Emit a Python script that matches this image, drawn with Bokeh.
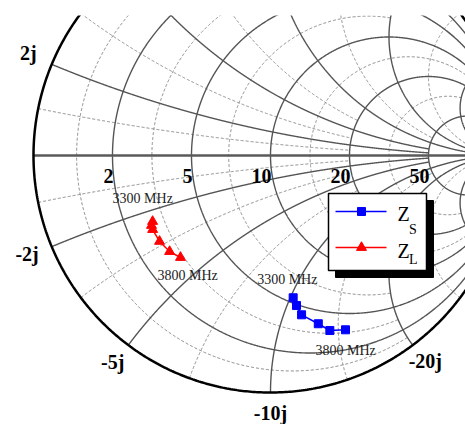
import numpy as np
from bokeh.plotting import figure
from bokeh.core.properties import value
from bokeh.embed import file_html
from bokeh.resources import INLINE

# ---------------- data (ohms, chart normalised to Z0) ----------------
Z0 = 10.0
freq_mhz = [3300, 3400, 3500, 3600, 3700, 3800]
zs_r = [5.35, 4.92, 4.40, 3.99, 3.54, 3.56]
zs_x = [-10.19, -10.61, -11.14, -12.44, -13.34, -14.59]
zl_r = [2.91, 2.82, 2.80, 2.84, 2.98, 3.21]
zl_x = [-2.40, -2.52, -2.67, -3.17, -3.69, -4.12]

# grid circles (normalised) and truncation limits
r_solid = [0.2, 0.5, 1.0, 2.0, 5.0]
r_solid_lim = [5.0, 5.0, np.inf, np.inf, np.inf]
r_dash = [0.1, 0.333, 0.7, 1.4, 3.0]
r_dash_lim = [2.0, 2.0, 2.0, 5.0, 5.0]
x_solid = [0.2, 0.5, 1.0, 2.0, 5.0]
x_solid_lim = [5.0, 5.0, np.inf, np.inf, np.inf]
x_dash = [0.1, 0.333, 0.7, 1.4, 3.0]
x_dash_lim = [2.0, 2.0, 2.0, 5.0, 10.0]

r_tick_ohm = [2, 5, 10, 20, 50]
r_tick_labels = ["2", "5", "10", "20", "50"]
x_tick_ohm = [2, -2, -5, -10, -20]
x_tick_labels = ["2j", "-2j", "-5j", "-10j", "-20j"]

# ---------------- layout ----------------
W, H, TOP = 465, 424, 15
S = 237.0                     # px per unit of reflection coefficient
CXF, CYF = 270.0, 140.0       # chart centre inside the frame (px)
FW, FH = W, H - TOP
x_range = (-CXF / S, (FW - CXF) / S)
y_range = (-(FH - CYF) / S, CYF / S)
TXT_UP = 6.0                  # baseline correction for text (px)


def pg(px, py):
    """page pixel -> gamma-plane coordinates"""
    return (px - CXF) / S, (CYF - (py - TOP)) / S


def gamma(r, x):
    z = np.asarray(r, float) + 1j * np.asarray(x, float)
    g = (z - 1) / (z + 1)
    return g.real, g.imag


def r_curve(r, xmax):
    t = np.linspace(-np.arctan(xmax), np.arctan(xmax), 1500)
    return gamma(np.full_like(t, r), np.tan(t))


def x_curve(x, rmax):
    t = np.linspace(0, np.arctan(rmax), 1200)
    return gamma(np.tan(t), np.full_like(t, x))


p = figure(width=W, height=H, x_range=x_range, y_range=y_range,
           output_backend="svg", toolbar_location=None,
           x_axis_location=None, y_axis_location=None,
           min_border_left=0, min_border_right=0, min_border_bottom=0,
           min_border_top=TOP, outline_line_color=None,
           background_fill_color="white", border_fill_color="white")
p.grid.visible = False

SOLID_C, DASH_C = "#555555", "#808080"

# dashed grid
xs, ys = [], []
for r, lim in zip(r_dash, r_dash_lim):
    a, b = r_curve(r, lim); xs.append(a); ys.append(b)
for xv, lim in zip(x_dash, x_dash_lim):
    for sgn in (1, -1):
        a, b = x_curve(sgn * xv, lim); xs.append(a); ys.append(b)
p.multi_line(xs, ys, line_color=DASH_C, line_width=1.0, line_dash="3 2")

# solid grid
xs, ys = [], []
for r, lim in zip(r_solid, r_solid_lim):
    a, b = r_curve(r, lim); xs.append(a); ys.append(b)
for xv, lim in zip(x_solid, x_solid_lim):
    for sgn in (1, -1):
        a, b = x_curve(sgn * xv, lim); xs.append(a); ys.append(b)
p.multi_line(xs, ys, line_color=SOLID_C, line_width=1.4)

# real axis and outer circle
p.line([-1, 1], [0, 0], line_color="#5a5a5a", line_width=2.4)
th = np.linspace(0, 2 * np.pi, 720)
p.line(np.cos(th), np.sin(th), line_color="black", line_width=2.5)

# ---------------- data series ----------------
gsx, gsy = gamma(np.array(zs_r) / Z0, np.array(zs_x) / Z0)
glx, gly = gamma(np.array(zl_r) / Z0, np.array(zl_x) / Z0)
BLUE, RED = "#0000ff", "#ff0000"
p.line(gsx, gsy, line_color=BLUE, line_width=1.5)
p.scatter(gsx, gsy, marker="square", size=8, fill_color=BLUE, line_color=BLUE)
p.line(glx, gly, line_color=RED, line_width=1.5)
p.scatter(glx, gly, marker="triangle", size=10, fill_color=RED, line_color=RED)

SERIF = value("Liberation Serif")

# frequency annotations, anchored to the first / last points
def freq_label(gx, gy, dx, dy, txt):
    p.text([gx + dx / S], [gy - (dy - TXT_UP) / S], text=[txt], text_font=SERIF,
           text_font_size="14px", text_color="#222222",
           text_align="left", text_baseline="alphabetic")

freq_label(glx[0], gly[0], -40, -17, f"{freq_mhz[0]} MHz")
freq_label(glx[-1], gly[-1], -23, 24, f"{freq_mhz[-1]} MHz")
freq_label(gsx[0], gsy[0], -36, -12, f"{freq_mhz[0]} MHz")
freq_label(gsx[-1], gsy[-1], -30, 27, f"{freq_mhz[-1]} MHz")

# resistance labels on the real axis
rl_x = [(v / Z0 - 1) / (v / Z0 + 1) + 1 / S for v in r_tick_ohm]
p.text(rl_x, [-(26 - TXT_UP) / S] * len(rl_x), text=r_tick_labels, text_font=SERIF,
       text_font_style="bold", text_font_size="20px", text_color="black",
       text_align="right", text_baseline="alphabetic")

# reactance labels at the rim
x_off = {"2j": (-15, -5, "right"), "-2j": (-13, 13, "right"),
         "-5j": (-4, 23, "right"), "-10j": (0, 26, "center"),
         "-20j": (-4, 22, "left")}
for v, lab in zip(x_tick_ohm, x_tick_labels):
    bx, by = gamma(0.0, v / Z0)
    dx, dy, al = x_off[lab]
    p.text([float(bx) + dx / S], [float(by) - (dy - TXT_UP) / S], text=[lab],
           text_font=SERIF, text_font_style="bold", text_font_size="20px",
           text_color="black", text_align=al, text_baseline="alphabetic")

# ---------------- legend (box with drop shadow) ----------------
sl, st = pg(335, 200); sr, sb = pg(433, 277)
p.quad(left=[sl], right=[sr], top=[st], bottom=[sb], fill_color="black", line_color="black")
bl, bt = pg(328, 193); br, bb = pg(426, 270)
p.quad(left=[bl], right=[br], top=[bt], bottom=[bb], fill_color="white",
       line_color="black", line_width=1.5)

for ypix, col, mk, msz, sub, zb, sbb in [(211, BLUE, "square", 8, "S", 219.5, 234.5),
                                         (247, RED, "triangle", 10, "L", 256, 265)]:
    x0, y0 = pg(335, ypix); x1, _ = pg(386, ypix); xm, _ = pg(361, ypix)
    p.line([x0, x1], [y0, y0], line_color=col, line_width=1.5)
    p.scatter([xm], [y0], marker=mk, size=msz, fill_color=col, line_color=col)
    tx, ty = pg(397, zb - TXT_UP)
    p.text([tx], [ty], text=["Z"], text_font=SERIF, text_font_size="20px",
           text_color="black", text_align="left", text_baseline="alphabetic")
    ux, uy = pg(408.5, sbb - TXT_UP)
    p.text([ux], [uy], text=[sub], text_font=SERIF, text_font_size="14px",
           text_color="black", text_align="left", text_baseline="alphabetic")

open("out.html", "w").write(file_html(p, INLINE))
